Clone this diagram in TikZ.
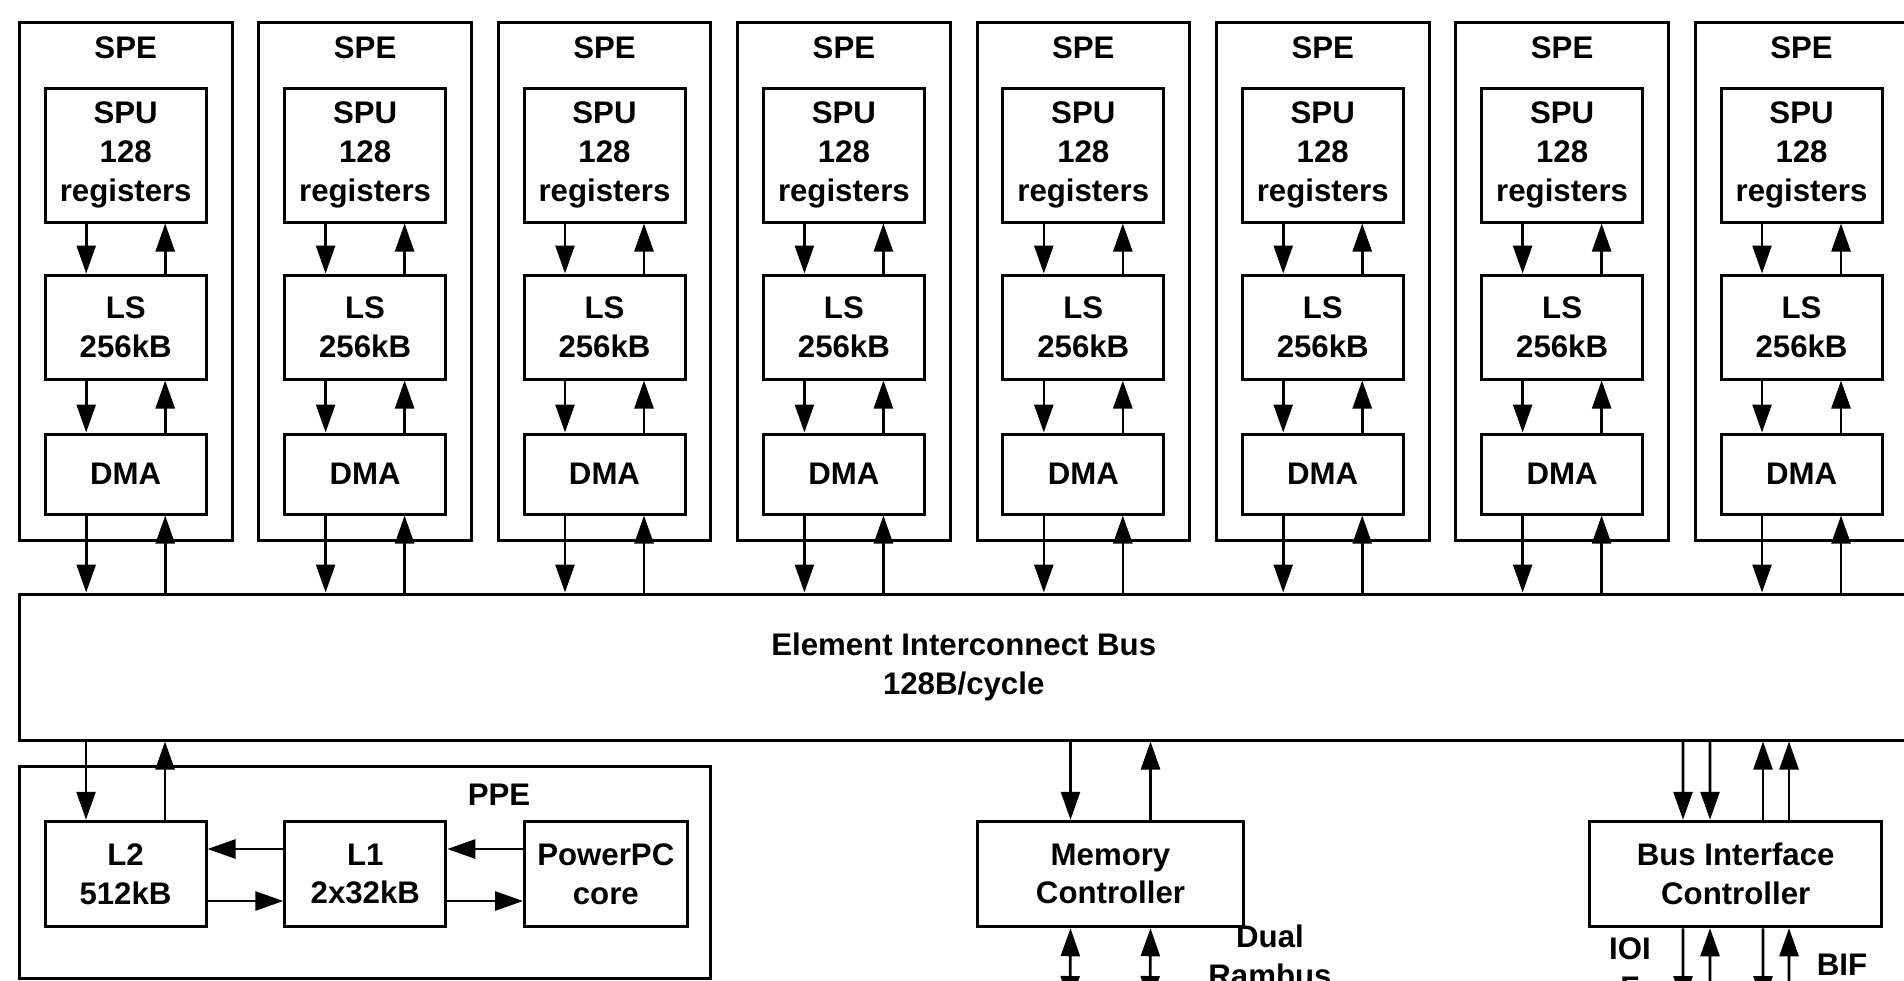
\documentclass[tikz,border=0pt]{standalone}
\usepackage{fontspec}
\setmainfont{Liberation Sans}
\usetikzlibrary{arrows.meta,calc}
\definecolor{ink}{RGB}{0,0,0}

\begin{document}
\begin{tikzpicture}[x=0.5pt, y=-0.5pt,
  font=\fontsize{15.6pt}{19.3pt}\selectfont\bfseries,
  >={Triangle[length=14pt,width=9.5pt]},
  box/.style={draw=ink, line width=1.5pt, align=center, inner sep=0pt},
  unit/.style={box, minimum width=80.5pt},
  tag/.style={align=center, inner sep=0pt},
  link/.style={draw=ink, line width=1.3pt}]
\useasboundingbox (0,0) rectangle (1904,980);
\clip (0,0) rectangle (1904,980);

% Bus
\node[box, minimum width=944.3pt, minimum height=73pt] (eib) at (963.7,667)
    {Element Interconnect Bus\\128B/cycle};

% SPEs
\foreach \i in {0,...,7} {
    \pgfmathsetmacro{\cx}{125.7+239.4*\i}
    \node[box, minimum width=106.3pt, minimum height=259pt] (spe\i) at (\cx,281) {};
    \node[tag] (spename\i) at (\cx,48) {SPE};
    \node[unit, minimum height=67pt] (spu\i) at (\cx,155) {SPU\\128\\registers};
    \node[unit, minimum height=52pt] (ls\i) at (\cx,327) {LS\\256kB};
    \node[unit, minimum height=40pt] (dma\i) at (\cx,474) {DMA};
    \draw[link,->] ([xshift=-19.75pt]spu\i.south) -- ([xshift=-19.75pt]ls\i.north);
    \draw[link,<-] ([xshift=19.75pt]spu\i.south) -- ([xshift=19.75pt]ls\i.north);
    \draw[link,->] ([xshift=-19.75pt]ls\i.south) -- ([xshift=-19.75pt]dma\i.north);
    \draw[link,<-] ([xshift=19.75pt]ls\i.south) -- ([xshift=19.75pt]dma\i.north);
    \draw[link,->] ([xshift=-19.75pt]dma\i.south) -- ($(dma\i.south |- eib.north)+(-39.5,0)$);
    \draw[link,<-] ([xshift=19.75pt]dma\i.south) -- ($(dma\i.south |- eib.north)+(39.5,0)$);
}

% PPE
\node[box, minimum width=345.3pt, minimum height=106pt] (ppe) at (364.7,872) {};
\node[tag] (ppename) at (499,795) {PPE};
\node[unit, minimum height=52.75pt] (l2) at (125.5,874) {L2\\512kB};
\node[unit, minimum height=52.75pt] (l1) at (365.3,874) {L1\\2x32kB};
\node[unit, minimum width=81.2pt, minimum height=52.75pt] (ppc) at (605.8,874) {PowerPC\\core};
\draw[link,->] ([yshift=12.5pt]l1.west) -- ([yshift=12.5pt]l2.east);
\draw[link,->] ([yshift=-13.5pt]l2.east) -- ([yshift=-13.5pt]l1.west);
\draw[link,->] ([yshift=12.5pt]ppc.west) -- ([yshift=12.5pt]l1.east);
\draw[link,->] ([yshift=-13.5pt]l1.east) -- ([yshift=-13.5pt]ppc.west);
\draw[link,->] ($(l2.north |- eib.south)+(-39.5,0)$) -- ([xshift=-19.75pt]l2.north);
\draw[link,<-] ($(l2.north |- eib.south)+(39.5,0)$) -- ([xshift=19.75pt]l2.north);

% Memory controller
\node[box, minimum width=133pt, minimum height=52.75pt] (mc) at (1110.5,874) {Memory\\Controller};
\draw[link,->] ($(mc.north |- eib.south)+(-40,0)$) -- ([xshift=-20pt]mc.north);
\draw[link,<-] ($(mc.north |- eib.south)+(40,0)$) -- ([xshift=20pt]mc.north);
\coordinate (xdra) at (1070,1004);
\coordinate (xdrb) at (1150,1004);
\draw[link,<->] ([xshift=-20pt]mc.south) -- (xdra);
\draw[link,<->] ([xshift=20pt]mc.south) -- (xdrb);
\node[tag] (xdrname) at (1270,956) {Dual\\Rambus};

% Bus interface controller
\node[box, minimum width=146.25pt, minimum height=52.75pt] (bic) at (1735.7,874) {Bus Interface\\Controller};
\draw[link,->] ($(bic.north |- eib.south)+(-52.7,0)$) -- ([xshift=-26.35pt]bic.north);
\draw[link,->] ($(bic.north |- eib.south)+(-25.7,0)$) -- ([xshift=-12.85pt]bic.north);
\draw[link,<-] ($(bic.north |- eib.south)+(27.3,0)$) -- ([xshift=13.65pt]bic.north);
\draw[link,<-] ($(bic.north |- eib.south)+(53.3,0)$) -- ([xshift=26.65pt]bic.north);
\coordinate (ioia) at (1683,1004);
\coordinate (ioib) at (1710,1010);
\coordinate (bifa) at (1763,1004);
\coordinate (bifb) at (1789,1010);
\draw[link,->] ([xshift=-26.35pt]bic.south) -- (ioia);
\draw[link,<-] ([xshift=-12.85pt]bic.south) -- (ioib);
\draw[link,->] ([xshift=13.65pt]bic.south) -- (bifa);
\draw[link,<-] ([xshift=26.65pt]bic.south) -- (bifb);
\node[tag] (ioiname) at (1630,968) {IOI\\F};
\node[tag] (bifname) at (1842,965) {BIF};
\end{tikzpicture}
\end{document}
